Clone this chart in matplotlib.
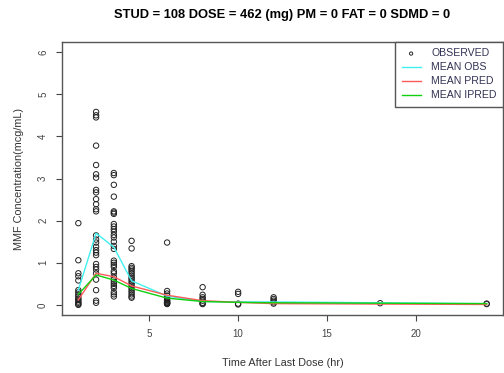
import matplotlib.pyplot as plt
import numpy as np

plt.rcParams['font.family'] = ['Liberation Sans', 'DejaVu Sans']

# observed concentrations per nominal time
obs_times = [1, 2, 3, 4, 6, 8, 10, 12, 18, 24]
obs_values = [
    [1.94, 1.06, 0.75, 0.68, 0.58, 0.35, 0.30, 0.25, 0.20, 0.15, 0.12, 0.08, 0.05, 0.02, 0.00],
    [4.58, 4.50, 4.45, 3.78, 3.32, 3.10, 3.02, 2.73, 2.67, 2.51, 2.39, 2.27, 2.22, 1.65, 1.55,
     1.48, 1.38, 1.30, 1.24, 1.18, 0.97, 0.90, 0.84, 0.75, 0.60, 0.35, 0.10, 0.05],
    [3.13, 3.08, 2.85, 2.57, 2.22, 2.19, 2.16, 1.92, 1.86, 1.80, 1.74, 1.66, 1.60, 1.50, 1.40,
     1.33, 1.05, 1.00, 0.95, 0.90, 0.80, 0.75, 0.66, 0.60, 0.55, 0.50, 0.45, 0.40, 0.30, 0.25, 0.20],
    [1.52, 1.34, 0.92, 0.88, 0.84, 0.79, 0.74, 0.69, 0.64, 0.60, 0.55, 0.50, 0.45, 0.40, 0.35,
     0.30, 0.25, 0.20, 0.17],
    [1.48, 0.33, 0.27, 0.22, 0.16, 0.12, 0.10, 0.08, 0.06, 0.05, 0.04, 0.03, 0.02],
    [0.42, 0.24, 0.18, 0.14, 0.10, 0.05, 0.03, 0.02],
    [0.31, 0.26, 0.03, 0.01],
    [0.18, 0.14, 0.10, 0.06, 0.03],
    [0.04],
    [0.03, 0.02],
]

# mean profiles
mean_times = [1, 2, 3, 4, 6, 8, 10, 12, 18, 24]
mean_obs = [0.35, 1.70, 1.37, 0.57, 0.21, 0.08, 0.07, 0.07, 0.05, 0.03]
mean_pred = [0.12, 0.75, 0.67, 0.45, 0.23, 0.10, 0.06, 0.03, 0.02, 0.01]
mean_ipred = [0.25, 0.71, 0.59, 0.39, 0.16, 0.08, 0.06, 0.05, 0.04, 0.03]

fig = plt.figure(figsize=(5.04, 3.73), dpi=100)
ax = fig.add_axes([62/504, 58/373, 441/504, 273/373])

xs = np.concatenate([[t]*len(v) for t, v in zip(obs_times, obs_values)])
ys = np.concatenate(obs_values)
ax.scatter(xs, ys, s=15, facecolors='none', edgecolors='#222222', linewidths=0.7,
           label='OBSERVED', zorder=2)
ax.plot(mean_times, mean_obs, color='#40f0f0', lw=1.0, label='MEAN OBS', zorder=3)
ax.plot(mean_times, mean_pred, color='#ff5a5a', lw=1.0, label='MEAN PRED', zorder=3)
ax.plot(mean_times, mean_ipred, color='#10d010', lw=1.0, label='MEAN IPRED', zorder=3)

ax.set_xlim(0.08, 24.92)
ax.set_ylim(-0.24, 6.24)
ax.set_xticks([5, 10, 15, 20])
ax.set_yticks([0, 1, 2, 3, 4, 5, 6])
ax.tick_params(axis='both', labelsize=7, colors='#444444', length=4, width=0.8, pad=6)
for lbl in ax.get_yticklabels():
    lbl.set_rotation(90)
    lbl.set_va('center')
for sp in ax.spines.values():
    sp.set_color('#555555')
    sp.set_linewidth(1.0)

ax.set_xlabel('Time After Last Dose (hr)', fontsize=7.8, color='#333333', labelpad=14)
ax.set_ylabel('MMF Concentration(mcg/mL)', fontsize=7.8, color='#333333', labelpad=10)
ax.set_title('STUD = 108 DOSE = 462 (mg) PM = 0 FAT = 0 SDMD = 0',
             fontsize=9.3, fontweight='bold', pad=17)

# legend in the top right corner, R style
leg = ax.legend(loc='upper right', bbox_to_anchor=(1.0, 1.0), borderaxespad=0,
                fontsize=7.6, fancybox=False, framealpha=1, edgecolor='#555555',
                handlelength=1.8, handletextpad=1.0, labelspacing=0.38,
                borderpad=0.6, markerscale=0.6)
leg.get_frame().set_linewidth(1.0)
for txt in leg.get_texts():
    txt.set_color('#333355')

fig.savefig('out.png', dpi=100)
